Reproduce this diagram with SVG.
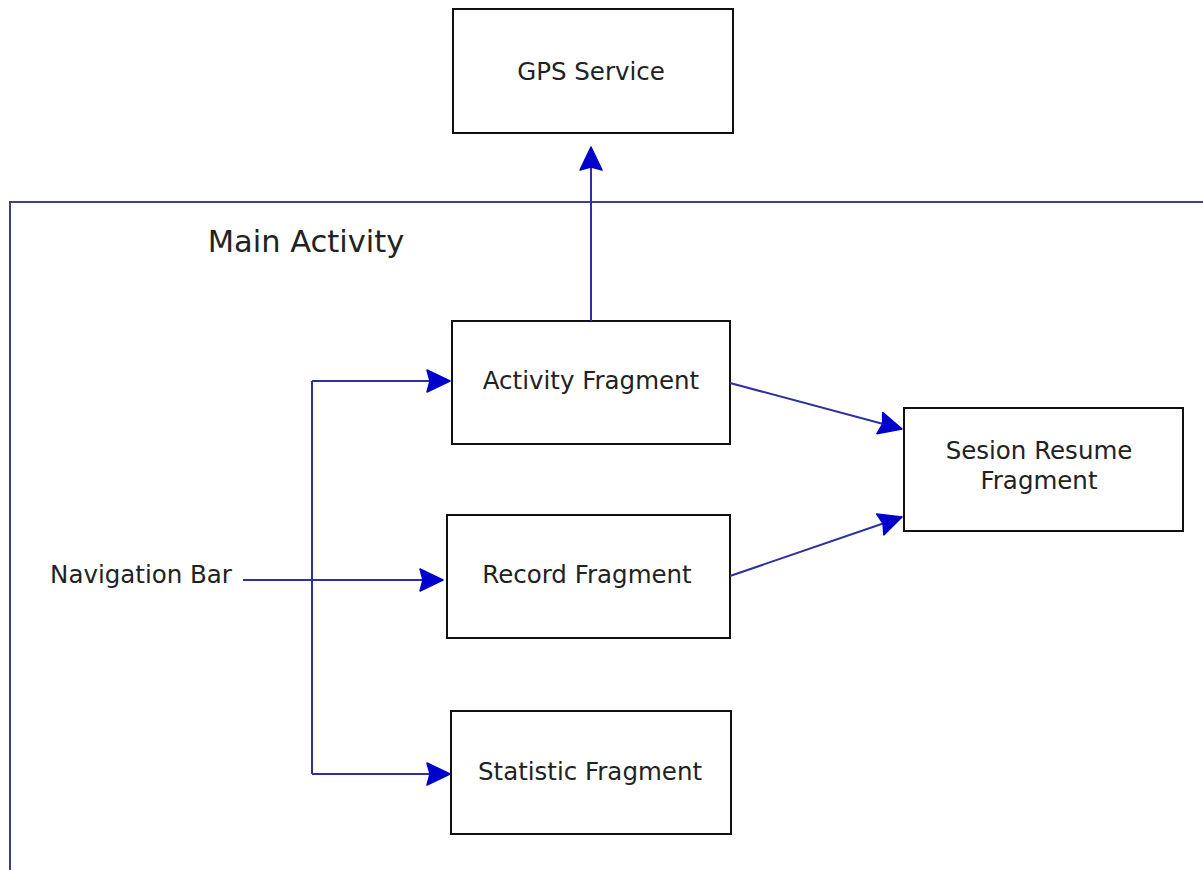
<svg xmlns="http://www.w3.org/2000/svg" width="1203" height="870" viewBox="0 0 1203 870">
<style>
.box{fill:#fff;stroke:#111;stroke-width:2}
.lbl{font-family:"DejaVu Sans",sans-serif;font-size:24.5px;fill:#222;text-anchor:middle}
.con{fill:none;stroke:#2f2f9f;stroke-width:2}
</style>
<defs>
<marker id="ah" markerUnits="userSpaceOnUse" markerWidth="28" markerHeight="28" viewBox="-25 -14 28 28" refX="0" refY="0" orient="auto">
<path d="M0,0 L-23,-11 L-20,0 L-23,11 Z" fill="#0000cc" stroke="#0000cc" stroke-width="1.5" stroke-linejoin="round"/>
</marker>
</defs>
<rect width="1203" height="870" fill="#fff"/>
<g id="main-activity">
<rect x="10" y="202" width="1220" height="700" fill="none" stroke="#404088" stroke-width="2"/>
<text x="306" y="252" class="lbl" style="font-size:30.5px">Main Activity</text>
</g>
<g id="gps-service">
<rect class="box" x="453" y="9" width="280" height="124"/>
<text class="lbl" x="591" y="80">GPS Service</text>
</g>
<g id="activity-fragment">
<rect class="box" x="452" y="321" width="278" height="123"/>
<text class="lbl" x="591" y="389">Activity Fragment</text>
</g>
<g id="record-fragment">
<rect class="box" x="447" y="515" width="283" height="123"/>
<text class="lbl" x="587" y="583">Record Fragment</text>
</g>
<g id="statistic-fragment">
<rect class="box" x="451" y="711" width="280" height="123"/>
<text class="lbl" x="590" y="780">Statistic Fragment</text>
</g>
<g id="sesion-resume-fragment">
<rect class="box" x="904" y="408" width="279" height="123"/>
<text class="lbl" x="1039" y="459">Sesion Resume</text>
<text class="lbl" x="1039" y="489">Fragment</text>
</g>
<g id="navigation-bar">
<text class="lbl" x="141" y="583">Navigation Bar</text>
</g>
<g id="connectors">
<path class="con" d="M591,321 L591,147" marker-end="url(#ah)"/>
<path class="con" d="M243,580 L443,580" marker-end="url(#ah)"/>
<path class="con" d="M312,381 L312,774"/>
<path class="con" d="M312,381 L450,381" marker-end="url(#ah)"/>
<path class="con" d="M312,774 L450,774" marker-end="url(#ah)"/>
<path class="con" d="M730,383 L902,429" marker-end="url(#ah)"/>
<path class="con" d="M730,576 L902,517" marker-end="url(#ah)"/>
</g>
</svg>
